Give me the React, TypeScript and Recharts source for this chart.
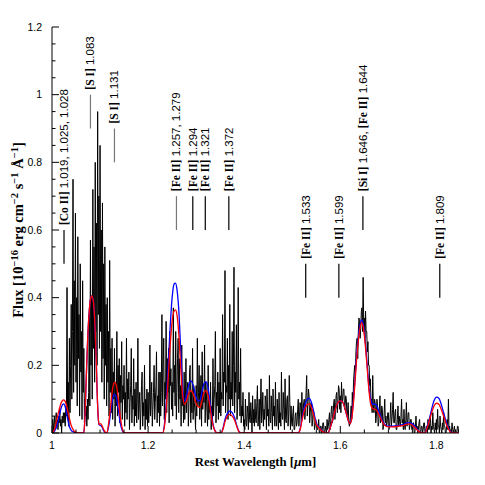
import React from 'react';
import { LineChart, Line, XAxis, YAxis, ReferenceLine } from 'recharts';

// Observed spectrum, sampled on a regular wavelength grid (micron)
const SPEC_START = 1.0;
const SPEC_STEP = 0.00125;
const SPEC_FLUX = [
  0.02, 0.04, 0.00, 0.03, 0.05, 0.01, 0.03, 0.06, 0.02, 0.04, 0.01, 0.05, 0.03, 0.07, 0.02, 0.04, 0.00, 0.05, 0.03, 0.06,
  0.03, 0.06, 0.02, 0.08, 0.05, 0.43, 0.04, 0.15, 0.02, 0.28, 0.06, 0.20, 0.38, 0.10, 0.30, 0.75, 0.12, 0.45, 0.20, 0.65,
  0.15, 0.40, 0.08, 0.58, 0.22, 0.35, 0.05, 0.50, 0.18, 0.30, 0.04, 0.45, 0.12, 0.25, 0.03, 0.10, 0.05, 0.08, 0.02, 0.10,
  0.04, 0.12, 0.35, 0.08, 0.57, 0.20, 0.40, 0.10, 0.72, 0.25, 0.55, 0.15, 0.80, 0.30, 0.62, 0.20, 0.95, 0.35, 0.70, 0.25,
  0.85, 0.30, 0.60, 0.15, 0.68, 0.22, 0.50, 0.10, 0.55, 0.20, 0.38, 0.08, 0.40, 0.15, 0.30, 0.05, 0.51, 0.12, 0.25, 0.06,
  0.28, 0.04, 0.18, 0.10, 0.25, 0.02, 0.15, 0.08, 0.30, 0.05, 0.20, 0.12, 0.22, 0.03, 0.17, 0.09, 0.27, 0.04, 0.14, 0.10,
  0.20, 0.02, 0.12, 0.06, 0.28, 0.04, 0.16, 0.10, 0.18, 0.01, 0.09, 0.14, 0.25, 0.03, 0.11, 0.07, 0.22, 0.02, 0.13, 0.05,
  0.15, 0.03, 0.10, 0.28, 0.04, 0.08, 0.12, 0.01, 0.06, 0.14, 0.18, 0.02, 0.09, 0.05, 0.20, 0.01, 0.10, 0.04, 0.13, 0.02,
  0.12, 0.03, 0.08, 0.26, 0.05, 0.10, 0.15, 0.02, 0.07, 0.12, 0.20, 0.04, 0.09, 0.14, 0.24, 0.03, 0.11, 0.06, 0.18, 0.02,
  0.18, 0.05, 0.12, 0.35, 0.08, 0.20, 0.28, 0.04, 0.15, 0.10, 0.33, 0.06, 0.22, 0.12, 0.25, 0.03, 0.30, 0.14, 0.19, 0.07,
  0.15, 0.05, 0.37, 0.12, 0.20, 0.08, 0.30, 0.04, 0.12, 0.22, 0.28, 0.06, 0.22, 0.10, 0.14, 0.02, 0.26, 0.08, 0.12, 0.03,
  0.18, 0.04, 0.10, 0.22, 0.06, 0.12, 0.15, 0.02, 0.08, 0.18, 0.20, 0.03, 0.12, 0.06, 0.25, 0.04, 0.14, 0.09, 0.06, 0.01,
  0.14, 0.05, 0.28, 0.08, 0.12, 0.20, 0.04, 0.10, 0.17, 0.02, 0.24, 0.07, 0.12, 0.09, 0.26, 0.03, 0.15, 0.12, 0.06, 0.02,
  0.20, 0.04, 0.10, 0.06, 0.15, 0.01, 0.08, 0.03, 0.22, 0.05, 0.10, 0.14, 0.30, 0.03, 0.12, 0.08, 0.18, 0.04, 0.15, 0.06,
  0.25, 0.05, 0.12, 0.10, 0.35, 0.08, 0.18, 0.15, 0.48, 0.06, 0.14, 0.12, 0.28, 0.04, 0.20, 0.10, 0.38, 0.05, 0.15, 0.10,
  0.30, 0.08, 0.20, 0.49, 0.06, 0.18, 0.12, 0.32, 0.04, 0.08, 0.43, 0.10, 0.15, 0.05, 0.25, 0.03, 0.08, 0.05, 0.12, 0.02,
  0.04, 0.01, 0.10, 0.03, 0.02, 0.08, 0.06, 0.01, 0.12, 0.04, 0.03, 0.09, 0.05, 0.00, 0.11, 0.03, 0.07, 0.02, 0.10, 0.04,
  0.03, 0.09, 0.14, 0.02, 0.05, 0.10, 0.01, 0.08, 0.16, 0.03, 0.06, 0.12, 0.02, 0.07, 0.04, 0.11, 0.09, 0.01, 0.13, 0.05,
  0.07, 0.02, 0.17, 0.04, 0.03, 0.11, 0.06, 0.01, 0.13, 0.05, 0.08, 0.02, 0.15, 0.04, 0.02, 0.10, 0.06, 0.01, 0.12, 0.03,
  0.06, 0.02, 0.18, 0.05, 0.04, 0.12, 0.07, 0.01, 0.16, 0.04, 0.03, 0.10, 0.11, 0.02, 0.05, 0.17, 0.09, 0.01, 0.08, 0.03,
  0.02, 0.06, 0.08, 0.01, 0.01, 0.05, 0.06, 0.02, 0.03, 0.07, 0.10, 0.02, 0.05, 0.09, 0.08, 0.03, 0.12, 0.05, 0.06, 0.09,
  0.10, 0.04, 0.07, 0.12, 0.17, 0.05, 0.09, 0.13, 0.11, 0.03, 0.06, 0.09, 0.09, 0.02, 0.04, 0.07, 0.06, 0.01, 0.02, 0.04,
  0.03, 0.01, 0.01, 0.02, 0.04, 0.00, 0.00, 0.02, 0.02, 0.00, 0.01, 0.03, 0.03, 0.00, 0.00, 0.02, 0.01, 0.00, 0.04, 0.01,
  0.02, 0.04, 0.06, 0.01, 0.03, 0.07, 0.08, 0.03, 0.05, 0.09, 0.10, 0.04, 0.07, 0.11, 0.12, 0.06, 0.09, 0.14, 0.13, 0.07,
  0.11, 0.06, 0.15, 0.09, 0.10, 0.13, 0.13, 0.07, 0.08, 0.11, 0.10, 0.05, 0.06, 0.09, 0.04, 0.02, 0.03, 0.05, 0.08, 0.04,
  0.12, 0.08, 0.15, 0.18, 0.20, 0.16, 0.24, 0.27, 0.28, 0.22, 0.30, 0.34, 0.33, 0.28, 0.31, 0.36, 0.37, 0.30, 0.46, 0.32,
  0.34, 0.28, 0.36, 0.30, 0.30, 0.24, 0.27, 0.20, 0.20, 0.14, 0.16, 0.10, 0.10, 0.06, 0.17, 0.08, 0.06, 0.10, 0.09, 0.03,
  0.05, 0.10, 0.08, 0.02, 0.03, 0.07, 0.11, 0.03, 0.04, 0.08, 0.07, 0.01, 0.02, 0.06, 0.10, 0.03, 0.05, 0.02, 0.03, 0.06,
  0.06, 0.01, 0.02, 0.05, 0.09, 0.02, 0.04, 0.07, 0.12, 0.03, 0.03, 0.06, 0.07, 0.01, 0.01, 0.04, 0.08, 0.02, 0.05, 0.03,
  0.02, 0.05, 0.10, 0.03, 0.04, 0.01, 0.07, 0.02, 0.01, 0.04, 0.09, 0.02, 0.03, 0.06, 0.06, 0.01, 0.02, 0.04, 0.04, 0.01,
  0.01, 0.03, 0.03, 0.00, 0.00, 0.02, 0.05, 0.01, 0.02, 0.00, 0.01, 0.03, 0.04, 0.00, 0.00, 0.02, 0.02, 0.00, 0.01, 0.03,
  0.03, 0.00, 0.00, 0.02, 0.02, 0.00, 0.04, 0.01, 0.01, 0.03, 0.05, 0.00, 0.02, 0.01, 0.06, 0.02, 0.01, 0.00, 0.03, 0.01,
  0.04, 0.01, 0.07, 0.02, 0.02, 0.00, 0.05, 0.02, 0.01, 0.00, 0.03, 0.01, 0.06, 0.02, 0.02, 0.00, 0.00, 0.02, 0.04, 0.01,
  0.10, 0.01, 0.02, 0.00, 0.01, 0.00, 0.03, 0.01, 0.00, 0.01, 0.02, 0.00, 0.01, 0.00, 0.00, 0.02, 0.02, 0.00, 0.01, 0.00,
];

// Model fits
const MODEL_WAVE = [
  1.000, 1.005, 1.010, 1.015, 1.020, 1.024, 1.028, 1.032, 1.036, 1.040, 1.045, 1.050, 1.055,
  1.066, 1.068, 1.071, 1.074, 1.077, 1.080, 1.083, 1.086, 1.089, 1.092, 1.094, 1.096, 1.098,
  1.101, 1.104, 1.107, 1.110, 1.114, 1.118, 1.122, 1.126, 1.130, 1.134, 1.138, 1.142, 1.146, 1.150,
  1.230, 1.235, 1.240, 1.245, 1.250, 1.254, 1.257, 1.260, 1.264, 1.268, 1.272, 1.276, 1.280,
  1.284, 1.289, 1.294, 1.299, 1.304, 1.308, 1.312, 1.316, 1.320, 1.324, 1.328, 1.332, 1.336,
  1.340, 1.344, 1.352, 1.356, 1.360, 1.365, 1.370, 1.375, 1.380, 1.385, 1.390, 1.394,
  1.512, 1.516, 1.520, 1.525, 1.530, 1.535, 1.540, 1.545, 1.550, 1.555, 1.560, 1.566, 1.570,
  1.574, 1.580, 1.586, 1.592, 1.598, 1.602, 1.607, 1.612, 1.617, 1.620, 1.624, 1.628, 1.632,
  1.636, 1.640, 1.644, 1.648, 1.652, 1.656, 1.660, 1.664, 1.668, 1.672, 1.676, 1.680, 1.685,
  1.690, 1.695, 1.700, 1.710, 1.720, 1.730, 1.740, 1.746, 1.752, 1.758, 1.764, 1.770,
  1.776, 1.780, 1.785, 1.790, 1.795, 1.800, 1.805, 1.810, 1.815, 1.820, 1.825, 1.830, 1.834, 1.847,
];
const MODEL_BLUE = [
  0, 0.005, 0.02, 0.05, 0.078, 0.086, 0.075, 0.045, 0.02, 0.008, 0.003, 0, 0,
  0, 0.03, 0.15, 0.27, 0.35, 0.395, 0.405, 0.39, 0.33, 0.22, 0.12, 0.05, 0.025,
  0.022, 0.018, 0.008, 0.002, 0, 0.02, 0.06, 0.10, 0.115, 0.105, 0.07, 0.03, 0.008, 0,
  0, 0.04, 0.15, 0.29, 0.40, 0.44, 0.443, 0.425, 0.36, 0.24, 0.13, 0.095, 0.11,
  0.14, 0.154, 0.14, 0.11, 0.095, 0.097, 0.12, 0.145, 0.152, 0.14, 0.10, 0.055, 0.02,
  0.005, 0, 0, 0.015, 0.04, 0.058, 0.065, 0.06, 0.045, 0.02, 0.003, 0,
  0, 0.01, 0.04, 0.075, 0.097, 0.103, 0.09, 0.06, 0.03, 0.018, 0.01, 0.002, 0,
  0, 0.02, 0.05, 0.08, 0.094, 0.095, 0.085, 0.06, 0.035, 0.027, 0.05, 0.11, 0.19,
  0.26, 0.31, 0.334, 0.32, 0.27, 0.20, 0.13, 0.095, 0.085, 0.085, 0.08, 0.065, 0.045,
  0.03, 0.022, 0.02, 0.02, 0.022, 0.025, 0.03, 0.03, 0.025, 0.015, 0.005, 0,
  0, 0.015, 0.04, 0.07, 0.095, 0.106, 0.103, 0.085, 0.06, 0.035, 0.015, 0.003, 0, 0,
];
const MODEL_RED = [
  0, 0.01, 0.04, 0.07, 0.092, 0.098, 0.092, 0.07, 0.045, 0.022, 0.008, 0.002, 0,
  0, 0.03, 0.15, 0.27, 0.35, 0.395, 0.405, 0.39, 0.33, 0.22, 0.12, 0.05, 0.025,
  0.028, 0.022, 0.012, 0.004, 0, 0.03, 0.08, 0.13, 0.15, 0.14, 0.10, 0.05, 0.015, 0,
  0, 0.03, 0.12, 0.24, 0.33, 0.36, 0.364, 0.35, 0.29, 0.19, 0.11, 0.085, 0.095,
  0.115, 0.125, 0.115, 0.09, 0.078, 0.076, 0.095, 0.118, 0.125, 0.115, 0.085, 0.045, 0.018,
  0.004, 0, 0, 0.012, 0.033, 0.05, 0.055, 0.05, 0.038, 0.017, 0.002, 0,
  0, 0.008, 0.035, 0.065, 0.082, 0.086, 0.075, 0.05, 0.025, 0.016, 0.008, 0.002, 0,
  0, 0.02, 0.05, 0.08, 0.094, 0.095, 0.085, 0.06, 0.035, 0.027, 0.045, 0.10, 0.18,
  0.25, 0.30, 0.326, 0.31, 0.26, 0.19, 0.12, 0.08, 0.072, 0.07, 0.066, 0.055, 0.04,
  0.027, 0.02, 0.018, 0.018, 0.02, 0.022, 0.026, 0.026, 0.02, 0.012, 0.004, 0,
  0, 0.012, 0.035, 0.06, 0.08, 0.088, 0.085, 0.07, 0.05, 0.028, 0.012, 0.002, 0, 0,
];

// Line identifications
const ID_LABELS = [
  '[Co II] 1.019, 1.025, 1.028',
  '[S I] 1.083',
  '[S I] 1.131',
  '[Fe II] 1.257, 1.279',
  '[Fe II] 1.294',
  '[Fe II] 1.321',
  '[Fe II] 1.372',
  '[Fe II] 1.533',
  '[Fe II] 1.599',
  '[Si I] 1.646, [Fe II] 1.644',
  '[Fe II] 1.809',
];
const ID_WAVE = [1.025, 1.080, 1.130, 1.259, 1.293, 1.319, 1.368, 1.528, 1.597, 1.647, 1.807];
const ID_LOW = [0.5, 0.9, 0.8, 0.6, 0.6, 0.6, 0.6, 0.4, 0.4, 0.6, 0.4];
const ID_HIGH = [0.6, 1.0, 0.9, 0.7, 0.7, 0.7, 0.7, 0.5, 0.5, 0.7, 0.5];
const ID_COLOR = ['#000', '#777', '#777', '#777', '#000', '#000', '#000', '#000', '#000', '#000', '#000'];

const X_DOMAIN = [1.0, 1.847];
const Y_DOMAIN = [0, 1.2];
const X_TICKS = [1, 1.05, 1.1, 1.15, 1.2, 1.25, 1.3, 1.35, 1.4, 1.45, 1.5, 1.55, 1.6, 1.65, 1.7, 1.75, 1.8];
const X_MAJOR = [1, 1.2, 1.4, 1.6, 1.8];
const Y_TICKS = [0, 0.05, 0.1, 0.15, 0.2, 0.25, 0.3, 0.35, 0.4, 0.45, 0.5, 0.55, 0.6, 0.65, 0.7, 0.75, 0.8, 0.85, 0.9, 0.95, 1, 1.05, 1.1, 1.15, 1.2];
const Y_MAJOR = [0, 0.2, 0.4, 0.6, 0.8, 1, 1.2];

const specData = SPEC_FLUX.map((f, i) => ({ w: Number((SPEC_START + i * SPEC_STEP).toFixed(5)), f }));
const blueData = MODEL_WAVE.map((w, i) => ({ w, f: MODEL_BLUE[i] }));
const redData = MODEL_WAVE.map((w, i) => ({ w, f: MODEL_RED[i] }));

const SANS = '"Liberation Sans", Arial, Helvetica, sans-serif';
const SERIF = '"Liberation Serif", "DejaVu Serif", serif';
const TM = 6;
const MAJ = 7;
const MIN = 3.5;

const BottomTick = (p: any) => {
  const major = X_MAJOR.includes(p.payload.value);
  const y0 = p.y - TM;
  return (
    <g>
      <line x1={p.x} x2={p.x} y1={y0} y2={y0 - (major ? MAJ : MIN)} stroke="#000" strokeWidth={1} />
      {major && (
        <text x={p.x} y={y0 + 16} textAnchor="middle" fontSize={10.5} fontFamily={SANS} fill="#000">
          {String(p.payload.value)}
        </text>
      )}
    </g>
  );
};
const TopTick = (p: any) => {
  const major = X_MAJOR.includes(p.payload.value);
  const y0 = p.y + TM;
  return <line x1={p.x} x2={p.x} y1={y0} y2={y0 + (major ? MAJ : MIN)} stroke="#000" strokeWidth={1} />;
};
const LeftTick = (p: any) => {
  const major = Y_MAJOR.includes(p.payload.value);
  const x0 = p.x + TM;
  return (
    <g>
      <line x1={x0} x2={x0 + (major ? MAJ : MIN)} y1={p.y} y2={p.y} stroke="#000" strokeWidth={1} />
      {major && (
        <text x={x0 - 10} y={p.y} dy="0.35em" textAnchor="end" fontSize={10.5} fontFamily={SANS} fill="#000">
          {String(p.payload.value)}
        </text>
      )}
    </g>
  );
};
const RightTick = (p: any) => {
  const major = Y_MAJOR.includes(p.payload.value);
  const x0 = p.x - TM;
  return <line x1={x0} x2={x0 - (major ? MAJ : MIN)} y1={p.y} y2={p.y} stroke="#000" strokeWidth={1} />;
};

const renderIdLabel = (text: string) => (props: any) => {
  const vb = props.viewBox || {};
  const x = vb.x;
  const y = vb.y - 5;
  const parts = text.split(/(\[[^\]]+\])/).filter((s) => s.length > 0);
  return (
    <text x={x} y={y} dy="0.35em" transform={`rotate(-90, ${x}, ${y})`} textAnchor="start" fontSize={11.5} fill="#000">
      {parts.map((s, i) => (
        <tspan key={i} fontFamily={s.startsWith('[') ? SERIF : SANS} fontWeight={s.startsWith('[') ? 'bold' : 'normal'}>
          {s}
        </tspan>
      ))}
    </text>
  );
};

const XTitle = (props: any) => {
  const vb = props.viewBox;
  return (
    <text x={vb.x + vb.width / 2} y={vb.y + 33} textAnchor="middle" fontSize={12.8} fontWeight="bold" fontFamily={SERIF} fill="#000">
      Rest Wavelength [<tspan fontStyle="italic">μ</tspan>m]
    </text>
  );
};
const YTitle = (props: any) => {
  const vb = props.viewBox;
  const cx = vb.x + 18;
  const cy = vb.y + vb.height / 2;
  const sup = 10.5;
  return (
    <text x={cx} y={cy} dy="0.35em" transform={`rotate(-90, ${cx}, ${cy})`} textAnchor="middle" fontSize={14.5} fontWeight="bold" fontFamily={SERIF} fill="#000">
      Flux [10
      <tspan dy={-5} fontSize={sup}>−16</tspan>
      <tspan dy={5}> erg cm</tspan>
      <tspan dy={-5} fontSize={sup}>−2</tspan>
      <tspan dy={5}> s</tspan>
      <tspan dy={-5} fontSize={sup}>−1</tspan>
      <tspan dy={5}> Å</tspan>
      <tspan dy={-5} fontSize={sup}>−1</tspan>
      <tspan dy={5}>]</tspan>
    </text>
  );
};

export default function App() {
  return (
    <div style={{ position: 'absolute', left: 0, top: 0, width: 485, height: 485, background: '#fff' }}>
      <LineChart width={485} height={485} margin={{ top: 27, right: 26, bottom: 0, left: 0 }}>
        <XAxis
          dataKey="w"
          type="number"
          domain={X_DOMAIN}
          allowDataOverflow
          ticks={X_TICKS}
          interval={0}
          height={52}
          tickSize={0}
          tickMargin={TM}
          tickLine={false}
          tick={BottomTick}
          axisLine={{ stroke: '#000' }}
          label={XTitle}
        />
        <XAxis
          xAxisId="top"
          orientation="top"
          dataKey="w"
          type="number"
          domain={X_DOMAIN}
          allowDataOverflow
          ticks={X_TICKS}
          interval={0}
          height={0}
          tickSize={0}
          tickMargin={TM}
          tickLine={false}
          tick={TopTick}
          axisLine={{ stroke: '#000' }}
        />
        <YAxis
          type="number"
          domain={Y_DOMAIN}
          allowDataOverflow
          ticks={Y_TICKS}
          interval={0}
          width={52}
          tickSize={0}
          tickMargin={TM}
          tickLine={false}
          tick={LeftTick}
          axisLine={{ stroke: '#000' }}
          label={YTitle}
        />
        <YAxis
          yAxisId="right"
          orientation="right"
          type="number"
          domain={Y_DOMAIN}
          allowDataOverflow
          ticks={Y_TICKS}
          interval={0}
          width={0}
          tickSize={0}
          tickMargin={TM}
          tickLine={false}
          tick={RightTick}
          axisLine={{ stroke: '#000' }}
        />
        <Line
          data={specData}
          dataKey="f"
          xAxisId="top"
          yAxisId="right"
          stroke="none"
          dot={false}
          activeDot={false}
          isAnimationActive={false}
        />
        <Line data={specData} dataKey="f" type="linear" stroke="#000" strokeWidth={1} dot={false} activeDot={false} isAnimationActive={false} />
        <Line data={blueData} dataKey="f" type="monotone" stroke="#0000ff" strokeWidth={1.3} dot={false} activeDot={false} isAnimationActive={false} />
        <Line data={redData} dataKey="f" type="monotone" stroke="#ff0000" strokeWidth={1.3} dot={false} activeDot={false} isAnimationActive={false} />
        {ID_LABELS.map((lab, i) => (
          <ReferenceLine
            key={lab}
            segment={[{ x: ID_WAVE[i], y: ID_LOW[i] }, { x: ID_WAVE[i], y: ID_HIGH[i] }]}
            stroke={ID_COLOR[i]}
            strokeWidth={1.2}
            ifOverflow="visible"
            label={renderIdLabel(lab)}
          />
        ))}
      </LineChart>
    </div>
  );
}
